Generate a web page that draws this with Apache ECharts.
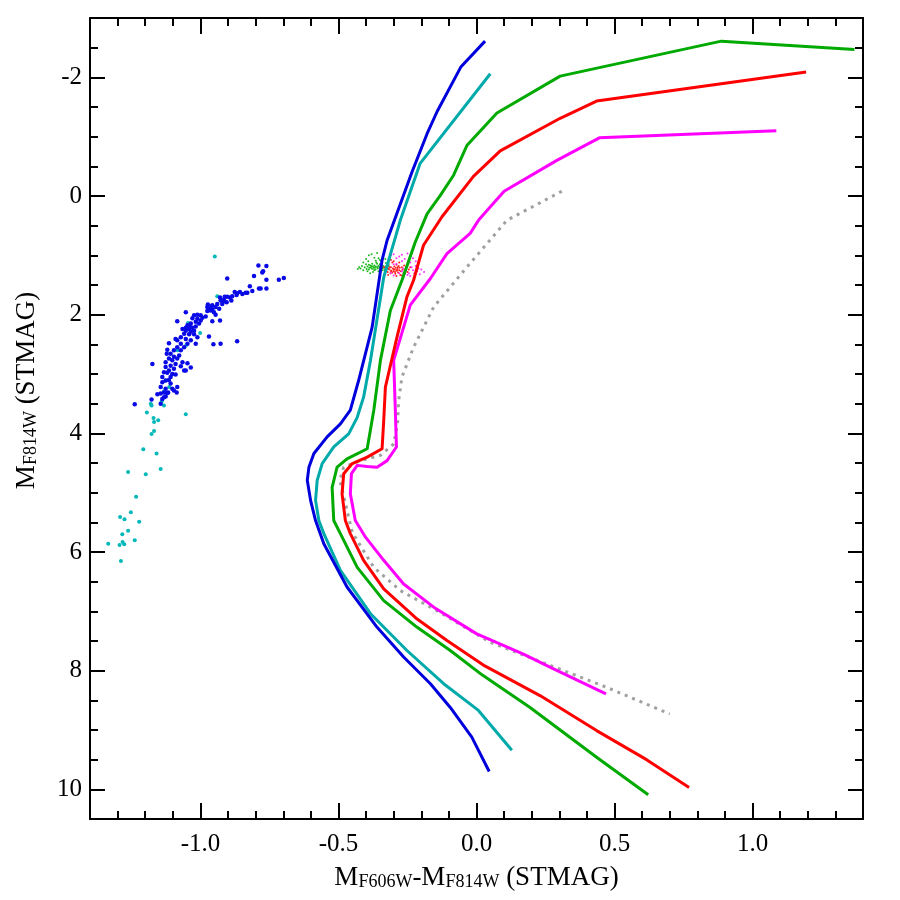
<!DOCTYPE html>
<html>
<head>
<meta charset="utf-8">
<script src="https://cdn.jsdelivr.net/npm/echarts@6/dist/echarts.min.js"></script>
<style>html,body{margin:0;padding:0;background:#fff}#c{width:900px;height:900px}</style>
</head>
<body>
<div id="c"></div>
<script>
// ---- data (colour in STMAG, magnitude M_F814W) ----
var xMajorTicks = [-1.0, -0.5, 0.0, 0.5, 1.0];
var yMajorTicks = [-2, 0, 2, 4, 6, 8, 10];

var blueIso = [[0.031,-2.61],[-0.056,-2.18],[-0.143,-1.42],[-0.179,-1.05],[-0.234,-0.40],[-0.324,0.75],[-0.342,1.08],[-0.378,2.21],[-0.427,3.11],[-0.457,3.61],[-0.493,3.84],[-0.541,4.06],[-0.589,4.34],[-0.607,4.57],[-0.613,4.79],[-0.601,5.13],[-0.583,5.47],[-0.553,5.86],[-0.469,6.59],[-0.360,7.27],[-0.264,7.77],[-0.167,8.22],[-0.095,8.62],[-0.017,9.12],[0.046,9.70]];
var cyanIso = [[0.050,-2.06],[-0.204,-0.55],[-0.276,0.41],[-0.336,1.37],[-0.384,2.77],[-0.409,3.39],[-0.432,3.73],[-0.463,4.01],[-0.517,4.23],[-0.559,4.51],[-0.577,4.79],[-0.583,5.13],[-0.571,5.47],[-0.553,5.69],[-0.493,6.31],[-0.384,7.04],[-0.252,7.66],[-0.119,8.22],[0.007,8.67],[0.128,9.34]];
var greenIso = [[1.369,-2.47],[0.887,-2.61],[0.303,-2.02],[0.074,-1.40],[-0.035,-0.85],[-0.083,-0.35],[-0.131,-0.01],[-0.179,0.30],[-0.222,0.78],[-0.270,1.42],[-0.312,1.93],[-0.348,2.77],[-0.372,3.61],[-0.396,4.26],[-0.469,4.43],[-0.505,4.57],[-0.523,4.91],[-0.517,5.47],[-0.493,5.69],[-0.432,6.26],[-0.336,6.82],[-0.215,7.27],[-0.095,7.66],[0.020,8.07],[0.194,8.62],[0.435,9.46],[0.622,10.09]];
var redIso = [[1.194,-2.09],[0.435,-1.60],[0.303,-1.31],[0.086,-0.76],[-0.011,-0.33],[-0.125,0.35],[-0.192,0.83],[-0.228,1.42],[-0.252,1.70],[-0.288,2.38],[-0.330,3.22],[-0.336,3.78],[-0.342,4.26],[-0.396,4.40],[-0.450,4.51],[-0.481,4.68],[-0.487,5.02],[-0.475,5.47],[-0.457,5.69],[-0.409,6.14],[-0.336,6.62],[-0.215,7.13],[-0.107,7.49],[0.030,7.92],[0.230,8.42],[0.435,9.01],[0.616,9.50],[0.770,9.97]];
var magentaIso = [[1.086,-1.10],[0.445,-0.98],[0.291,-0.60],[0.100,-0.08],[0.007,0.41],[-0.023,0.63],[-0.107,0.97],[-0.167,1.39],[-0.240,1.84],[-0.300,2.77],[-0.294,3.61],[-0.290,4.23],[-0.324,4.46],[-0.360,4.57],[-0.396,4.56],[-0.432,4.54],[-0.453,4.68],[-0.457,5.02],[-0.439,5.47],[-0.402,5.75],[-0.336,6.14],[-0.264,6.54],[-0.155,6.93],[0.001,7.38],[0.170,7.72],[0.266,7.94],[0.469,8.39]];
var grayIso = [[0.309,-0.08],[0.260,0.04],[0.110,0.41],[-0.035,1.20],[-0.155,1.87],[-0.228,2.55],[-0.270,3.05],[-0.282,3.45],[-0.286,3.84],[-0.300,4.18],[-0.348,4.37],[-0.420,4.46],[-0.481,4.57],[-0.495,4.79],[-0.450,5.67],[-0.372,6.26],[-0.276,6.65],[-0.143,6.99],[0.049,7.52],[0.266,7.91],[0.471,8.28],[0.700,8.73]];

var blueStars = [[-0.79,1.17],[-0.761,1.18],[-0.773,1.27],[-0.776,1.29],[-0.806,1.35],[-0.716,1.41],[-0.698,1.38],[-0.761,1.41],[-0.903,1.39],[-0.821,1.52],[-0.788,1.56],[-0.782,1.56],[-0.761,1.56],[-0.812,1.60],[-0.830,1.63],[-0.836,1.63],[-0.857,1.62],[-0.867,1.64],[-0.876,1.62],[-0.869,1.67],[-0.885,1.69],[-0.893,1.71],[-0.903,1.70],[-0.915,1.75],[-0.905,1.79],[-0.921,1.82],[-0.917,1.78],[-0.929,1.71],[-0.939,1.82],[-0.957,1.84],[-0.973,1.83],[-0.969,1.90],[-0.963,1.93],[-0.975,1.94],[-0.951,1.96],[-0.957,1.91],[-0.945,2.00],[-0.929,2.10],[-0.957,2.11],[-0.981,2.03],[-0.999,2.01],[-1.011,2.00],[-1.023,2.01],[-1.029,2.06],[-1.011,2.07],[-0.999,2.10],[-1.017,2.12],[-1.035,2.15],[-1.047,2.18],[-1.053,2.22],[-1.041,2.24],[-1.029,2.22],[-1.023,2.27],[-1.053,2.27],[-1.065,2.24],[-1.084,2.11],[-1.053,1.96],[-1.023,2.33],[-1.041,2.33],[-1.011,2.38],[-0.969,2.37],[-1.053,2.41],[-1.035,2.43],[-1.047,2.49],[-1.059,2.55],[-1.071,2.49],[-1.084,2.43],[-1.090,2.41],[-1.017,2.49],[-0.953,2.50],[-0.927,2.49],[-0.867,2.45],[-1.084,2.55],[-1.096,2.60],[-1.071,2.60],[-1.114,2.48],[-1.120,2.59],[-1.108,2.66],[-1.114,2.74],[-1.126,2.80],[-1.102,2.77],[-1.096,2.71],[-1.084,2.74],[-1.108,2.86],[-1.090,2.83],[-1.065,2.80],[-1.047,2.82],[-1.035,2.89],[-1.096,2.91],[-1.114,2.94],[-1.126,2.88],[-1.132,2.97],[-1.120,2.98],[-1.102,3.00],[-1.090,3.01],[-1.059,2.94],[-1.053,2.94],[-1.174,2.83],[-1.108,3.05],[-1.114,3.10],[-1.126,3.11],[-1.138,3.14],[-1.144,3.22],[-1.126,3.25],[-1.102,3.25],[-1.084,3.22],[-1.096,3.28],[-1.086,3.31],[-1.117,3.31],[-1.132,3.31],[-1.144,3.33],[-1.156,3.34],[-1.138,3.42],[-1.126,3.38],[-1.120,3.32],[-1.144,3.50],[-1.177,3.43],[-1.238,3.51],[-1.132,3.39],[-1.038,2.20],[-1.017,2.20],[-1.035,2.29],[-1.059,2.32],[-1.005,2.15],[-0.993,2.05],[-0.975,1.87],[-0.960,1.86],[-0.945,1.87],[-0.932,1.90],[-0.927,1.76],[-0.912,1.70],[-0.888,1.76],[-0.848,1.65],[-1.071,2.38],[-1.077,2.69],[-1.122,2.66],[-1.071,2.87],[-1.138,3.05],[-1.108,3.16]];
var cyanStars = [[-0.948,1.02],[-0.939,1.69],[-1.045,2.14],[-1.001,2.31],[-1.051,2.51],[-1.083,2.60],[-1.126,3.11],[-1.113,3.22],[-1.132,3.29],[-1.140,3.46],[-1.180,3.50],[-1.177,3.53],[-1.132,3.53],[-1.194,3.65],[-1.053,3.68],[-1.170,3.74],[-1.153,3.78],[-1.168,3.81],[-1.168,3.96],[-1.177,4.01],[-1.207,4.27],[-1.159,4.34],[-1.144,4.60],[-1.262,4.65],[-1.198,4.69],[-1.233,5.07],[-1.252,5.33],[-1.291,5.41],[-1.275,5.45],[-1.222,5.49],[-1.262,5.64],[-1.283,5.70],[-1.238,5.80],[-1.334,5.86],[-1.293,5.88],[-1.282,5.83],[-1.276,5.87],[-1.288,6.15]];
var greenClump = [[-0.42,1.22],[-0.415,1.18],[-0.41,1.25],[-0.405,1.2],[-0.40,1.15],[-0.398,1.23],[-0.395,1.19],[-0.392,1.1],[-0.39,1.24],[-0.388,1.21],[-0.385,1.17],[-0.383,1.2],[-0.38,1.22],[-0.378,1.14],[-0.376,1.19],[-0.375,1.23],[-0.372,1.2],[-0.37,1.17],[-0.368,1.21],[-0.366,1.24],[-0.365,1.19],[-0.363,1.12],[-0.36,1.2],[-0.358,1.22],[-0.356,1.18],[-0.355,1.05],[-0.352,1.21],[-0.35,1.19],[-0.348,1.23],[-0.346,1.2],[-0.344,1.16],[-0.342,1.22],[-0.34,1.2],[-0.338,1.18],[-0.335,1.21],[-0.333,1.24],[-0.33,1.19],[-0.328,1.13],[-0.325,1.2],[-0.32,1.23],[-0.318,1.18],[-0.39,1.0],[-0.38,0.98],[-0.37,1.04],[-0.36,0.96],[-0.35,1.08],[-0.4,1.06],[-0.41,1.12],[-0.375,1.28],[-0.355,1.27],[-0.385,1.3],[-0.345,1.1],[-0.365,1.09],[-0.395,1.27],[-0.425,1.2],[-0.43,1.23],[-0.36,1.14],[-0.37,1.25],[-0.38,1.18],[-0.39,1.16],[-0.34,1.25],[-0.33,1.06],[-0.35,1.15]];
var redClump = [[-0.335,1.2],[-0.33,1.25],[-0.325,1.18],[-0.322,1.28],[-0.32,1.22],[-0.318,1.15],[-0.315,1.24],[-0.312,1.3],[-0.31,1.2],[-0.308,1.26],[-0.305,1.12],[-0.303,1.22],[-0.3,1.27],[-0.298,1.19],[-0.296,1.24],[-0.294,1.31],[-0.292,1.21],[-0.29,1.16],[-0.288,1.26],[-0.286,1.23],[-0.284,1.29],[-0.282,1.18],[-0.28,1.25],[-0.278,1.21],[-0.276,1.33],[-0.274,1.27],[-0.27,1.2],[-0.268,1.24],[-0.265,1.3],[-0.262,1.17],[-0.26,1.26],[-0.255,1.22],[-0.25,1.28],[-0.245,1.24],[-0.24,1.2],[-0.3,1.1],[-0.31,1.08],[-0.29,1.35],[-0.32,1.33],[-0.28,1.12],[-0.27,1.34],[-0.305,1.29],[-0.295,1.28],[-0.285,1.2],[-0.315,1.2],[-0.3,1.23],[-0.29,1.25],[-0.31,1.27]];
var magentaClump = [[-0.31,1.0],[-0.3,0.98],[-0.29,1.05],[-0.28,1.02],[-0.27,1.1],[-0.26,1.06],[-0.25,1.15],[-0.24,1.12],[-0.235,1.2],[-0.23,1.25],[-0.225,1.3],[-0.22,1.18],[-0.215,1.27],[-0.21,1.22],[-0.205,1.32],[-0.26,1.3],[-0.25,1.33],[-0.32,1.12],[-0.3,1.15],[-0.28,1.3],[-0.265,1.22],[-0.255,1.26],[-0.245,1.3],[-0.24,1.35],[-0.27,1.27],[-0.29,1.14],[-0.31,1.3],[-0.3,1.34],[-0.22,1.1],[-0.23,1.05],[-0.25,0.97],[-0.27,0.99],[-0.2,1.24],[-0.19,1.28]];

// ---- chart ----
var FONT = '"Liberation Serif", "DejaVu Serif", serif';
var X_MIN = -1.4, X_MAX = 1.4, Y_MIN = -3, Y_MAX = 10.5;
var axisLine = {show: true, onZero: false, lineStyle: {color: '#000', width: 2}};
var noLine = {show: false, onZero: false};

function xAx(pos, major, labels) {
  return {
    type: 'value', position: pos, min: X_MIN, max: X_MAX, interval: 0.1,
    axisLine: major ? noLine : axisLine,
    axisTick: major ? {show: true, inside: true, length: 16, customValues: xMajorTicks, lineStyle: {color: '#000', width: 2}}
                    : {show: true, inside: true, length: 8, lineStyle: {color: '#000', width: 2}},
    axisLabel: labels ? {show: true, customValues: xMajorTicks, margin: 13, color: '#000', fontFamily: FONT, fontSize: 25,
                         formatter: function (v) { return v.toFixed(1); }} : {show: false},
    splitLine: {show: false}
  };
}
function yAx(pos, major, labels) {
  return {
    type: 'value', position: pos, min: Y_MIN, max: Y_MAX, interval: 0.5, inverse: true,
    axisLine: major ? noLine : axisLine,
    axisTick: major ? {show: true, inside: true, length: 15, customValues: yMajorTicks, lineStyle: {color: '#000', width: 2}}
                    : {show: true, inside: true, length: 8, lineStyle: {color: '#000', width: 2}},
    axisLabel: labels ? {show: true, customValues: yMajorTicks, margin: 8, color: '#000', fontFamily: FONT, fontSize: 25,
                         formatter: function (v) { return String(v); }} : {show: false},
    splitLine: {show: false}
  };
}

var xAxes = [xAx('bottom', false, true), xAx('bottom', true, false), xAx('top', false, false), xAx('top', true, false)];
var yAxes = [yAx('left', false, true), yAx('left', true, false), yAx('right', false, false), yAx('right', true, false)];

var rich = {
  m: {fontFamily: FONT, fontSize: 27, color: '#000', lineHeight: 30, verticalAlign: 'bottom'},
  s: {fontFamily: FONT, fontSize: 18, color: '#000', lineHeight: 18, verticalAlign: 'bottom'}
};
xAxes[0].name = '{m|M}{s|F606W}{m|-M}{s|F814W}{m| (STMAG)}';
xAxes[0].nameLocation = 'middle';
xAxes[0].nameGap = 42;
xAxes[0].nameTextStyle = {rich: rich};
yAxes[0].name = '{m|M}{s|F814W}{m| (STMAG)}';
yAxes[0].nameLocation = 'middle';
yAxes[0].nameGap = 50;
yAxes[0].nameTextStyle = {rich: rich, padding: [0, 0, 0, 56]};

function lineS(data, color, type) {
  return {type: 'line', data: data, showSymbol: false, symbol: 'none', smooth: false, animation: false,
          lineStyle: {color: color, width: 3, type: type || 'solid', cap: 'butt', join: 'round'}, z: 3};
}
function dotS(data, color, size) {
  return {type: 'scatter', data: data, symbol: 'circle', symbolSize: size, animation: false,
          itemStyle: {color: color, opacity: 1}, z: 2};
}

var chart = echarts.init(document.getElementById('c'), null, {renderer: 'canvas'});
chart.setOption({
  backgroundColor: '#fff',
  animation: false,
  grid: {left: 90, right: 37, top: 18, bottom: 81, containLabel: false},
  xAxis: xAxes,
  yAxis: yAxes,
  series: [
    dotS(greenClump, '#22bb22', 2),
    dotS(redClump, '#ff2020', 2),
    dotS(magentaClump, '#ff30ff', 2),
    dotS(cyanStars, '#00b8b8', 4),
    dotS(blueStars, '#0a0ae6', 4.5),
    lineS(grayIso, '#a0a0a0', [3, 5]),
    lineS(magentaIso, '#ff00ff'),
    lineS(redIso, '#ff0000'),
    lineS(greenIso, '#00aa00'),
    lineS(cyanIso, '#00aaaa'),
    lineS(blueIso, '#0000dd')
  ]
});
</script>
</body>
</html>
